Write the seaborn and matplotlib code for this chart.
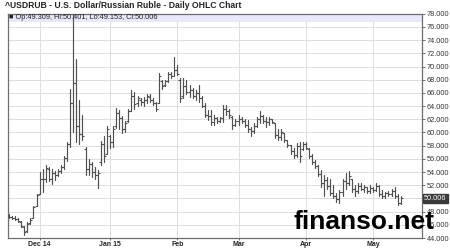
import numpy as np
import pandas as pd
import matplotlib
matplotlib.use("Agg")
import matplotlib.pyplot as plt
import matplotlib.transforms as mtransforms
import seaborn as sns

# ---------------- data ----------------
start_date = "2014-11-17"
highs = [47.6, 47.4, 47.3, 47.1, 46.6, 45.8, 46.4, 47.0, 48.9, 50.7,
         54.0, 54.5, 55.0, 54.7, 54.5, 54.2, 54.5, 55.0, 56.5, 58.5,
         66.6, 78.5, 71.2, 65.0, 62.6, 57.8, 56.0, 55.6, 54.8, 54.3,
         58.7, 59.5, 61.0, 59.6, 61.0, 63.7, 63.4, 62.5, 61.8, 63.5,
         66.5, 66.2, 65.6, 65.2, 65.4, 65.8, 65.9, 65.3, 64.7, 69.0,
         68.0, 68.0, 69.2, 69.2, 71.5, 70.2, 68.2, 68.2, 68.0, 67.2,
         66.7, 66.4, 67.2, 65.6, 64.5, 63.4, 63.4, 62.7, 62.4, 62.4,
         64.2, 64.2, 63.6, 62.5, 62.1, 62.6, 62.4, 62.1, 61.9, 60.9,
         61.4, 62.4, 63.2, 62.7, 62.4, 62.4, 62.1, 61.5, 60.5, 60.6,
         59.9, 58.9, 58.1, 57.6, 58.4, 58.6, 58.6, 58.6, 57.6, 56.8,
         55.8, 55.1, 54.3, 53.6, 53.3, 53.0, 52.0, 50.8, 51.3, 53.0,
         53.9, 54.1, 53.0, 52.0, 52.3, 52.3, 52.0, 51.8, 52.0, 51.8,
         52.3, 52.0, 51.3, 51.0, 51.2, 51.5, 51.8, 50.6, 50.401]
lows = [47.0, 46.9, 46.7, 46.4, 45.6, 44.5, 44.9, 46.1, 47.0, 48.9,
        50.6, 51.0, 52.5, 52.7, 52.2, 52.8, 53.4, 53.8, 54.5, 55.7,
        57.8, 60.0, 58.5, 58.2, 58.8, 53.5, 53.5, 53.3, 53.0, 51.6,
        55.1, 55.5, 56.8, 57.7, 57.8, 60.7, 60.5, 59.9, 60.1, 61.6,
        63.2, 63.6, 64.0, 64.2, 64.0, 64.5, 64.7, 64.2, 63.3, 64.4,
        66.6, 67.0, 67.7, 68.2, 68.5, 68.7, 64.7, 65.2, 65.9, 65.4,
        65.2, 64.9, 64.6, 63.8, 62.3, 61.9, 61.1, 61.1, 61.4, 61.6,
        61.6, 62.7, 62.2, 60.5, 61.0, 61.2, 61.4, 60.9, 60.1, 59.4,
        59.9, 60.9, 61.4, 61.4, 60.9, 61.1, 61.4, 59.2, 58.9, 58.9,
        58.5, 57.8, 56.8, 56.1, 56.3, 55.6, 57.3, 57.5, 56.2, 55.2,
        54.6, 53.4, 51.8, 50.3, 51.5, 50.5, 50.0, 49.5, 49.3, 50.3,
        51.5, 52.0, 51.0, 50.3, 50.8, 51.3, 51.0, 50.8, 50.8, 51.0,
        51.2, 50.3, 50.0, 50.0, 50.3, 50.4, 50.0, 49.0, 49.153]
opens = [47.4, 47.2, 47.1, 46.9, 46.5, 45.7, 45.0, 46.2, 47.1, 48.9,
         50.7, 52.9, 53.0, 54.5, 53.0, 53.8, 53.5, 54.2, 54.7, 56.2,
         58.3, 64.5, 67.5, 61.0, 59.8, 57.5, 54.5, 55.2, 54.0, 53.5,
         55.5, 58.3, 56.8, 59.5, 58.5, 61.0, 63.0, 62.2, 60.6, 61.7,
         63.3, 65.5, 64.4, 65.0, 64.6, 65.0, 65.4, 65.0, 64.5, 64.5,
         67.8, 67.2, 67.8, 68.8, 68.6, 69.5, 68.0, 65.5, 67.0, 66.2,
         66.5, 65.6, 66.0, 65.2, 64.0, 62.7, 62.5, 61.6, 62.2, 61.8,
         62.2, 63.6, 63.2, 62.4, 61.2, 61.7, 62.0, 61.7, 61.2, 60.5,
         60.3, 61.0, 62.0, 62.5, 61.8, 61.6, 62.1, 61.4, 59.6, 59.3,
         59.9, 58.8, 58.1, 57.2, 56.6, 58.0, 57.5, 58.2, 57.5, 56.5,
         55.6, 54.9, 53.7, 52.3, 52.8, 51.9, 50.9, 50.4, 49.9, 51.0,
         52.7, 52.4, 53.0, 51.4, 51.2, 51.9, 51.5, 51.7, 51.1, 51.6,
         51.3, 51.9, 50.6, 50.4, 50.8, 50.6, 51.2, 50.3, 49.309]
closes = [47.2, 47.1, 46.9, 46.6, 45.8, 44.9, 46.1, 46.8, 48.7, 50.5,
          52.9, 53.0, 54.6, 53.0, 53.8, 53.5, 54.2, 54.7, 56.2, 58.3,
          64.5, 67.5, 61.0, 59.8, 59.5, 54.5, 55.2, 54.0, 53.5, 53.9,
          58.3, 56.5, 60.5, 58.5, 60.5, 63.0, 62.2, 60.6, 61.4, 63.2,
          65.5, 64.3, 65.2, 64.6, 65.0, 65.5, 65.0, 64.5, 63.6, 68.5,
          67.0, 67.8, 68.8, 68.6, 69.5, 68.9, 65.2, 67.0, 66.2, 66.5,
          65.6, 66.0, 65.2, 64.0, 62.7, 62.5, 61.6, 62.2, 61.8, 62.2,
          63.6, 63.2, 62.6, 61.2, 61.7, 62.0, 61.7, 61.2, 60.5, 60.3,
          61.0, 62.0, 62.5, 61.8, 61.6, 62.1, 61.6, 59.6, 59.3, 60.1,
          58.8, 58.1, 57.2, 56.6, 58.0, 56.5, 58.2, 57.7, 56.5, 55.6,
          54.9, 53.7, 52.3, 52.8, 51.9, 50.9, 50.4, 49.9, 51.0, 52.7,
          52.4, 53.4, 51.4, 51.2, 51.9, 51.5, 51.7, 51.1, 51.6, 51.3,
          51.9, 50.6, 50.4, 50.8, 50.6, 51.2, 50.3, 49.3, 50.006]
month_labels = ["Dec 14", "Jan 15", "Feb", "Mar", "Apr", "May"]
month_starts = ["2014-12-01", "2015-01-01", "2015-02-02", "2015-03-02",
                "2015-04-01", "2015-05-01"]
y_ticks = list(range(44, 80, 2))
title = "^USDRUB - U.S. Dollar/Russian Ruble - Daily OHLC Chart"
legend_text = "\u25a0 Op:49.309, Hi:50.401, Lo:49.153, Cl:50.006"
last_close = 50.006
watermark = "finanso.net"

# ---------------- build frames ----------------
dates = pd.bdate_range(start_date, periods=len(highs))
idx = np.arange(len(dates))
date_pos = {d.strftime("%Y-%m-%d"): i for i, d in enumerate(dates)}
tick_pos = [date_pos[m] for m in month_starts]

long = pd.DataFrame({
    "i": np.concatenate([idx, idx]),
    "price": np.concatenate([highs, lows]),
})

# ---------------- style ----------------
sns.set_theme(style="white")
plt.rcParams["font.family"] = ["Liberation Sans", "DejaVu Sans"]

fig = plt.figure(figsize=(4.5, 2.48), dpi=100)
fig.patch.set_facecolor("white")
ax = fig.add_axes([7.5 / 450, 10 / 248, 414 / 450, 224.2 / 248])
ax.set_facecolor("white")

bar_color = "#505050"
sns.lineplot(data=long, x="i", y="price", units="i", estimator=None,
             sort=False, color=bar_color, lw=0.85, ax=ax, legend=False,
             zorder=4)
ax.plot(idx, opens, ls="none", marker=0, ms=1.1, mew=0.8, color=bar_color, zorder=4)
ax.plot(idx, closes, ls="none", marker=1, ms=1.1, mew=0.8, color=bar_color, zorder=4)

ax.set_xlim(-0.49, 134.8)
ax.set_ylim(44, 78)

# grid
for y in y_ticks:
    ax.axhline(y, color="#dedede", lw=0.7, zorder=1)
for x in tick_pos:
    ax.axvline(x, color="#dedede", lw=0.7, zorder=1)

# legend band at top
ax.axhspan(76.75, 78, color="#e8e8fb", zorder=2, lw=0)
ax.text(0.004, 77.38, legend_text,
        transform=mtransforms.blended_transform_factory(ax.transAxes, ax.transData),
        fontsize=5.3, color="#222222", va="center", ha="left", zorder=3)

# axes and ticks
for s in ax.spines.values():
    s.set_color("#6e6e6e")
    s.set_linewidth(0.9)
ax.yaxis.tick_right()
ax.set_yticks(y_ticks)
# the 50.000 label sits under the last-price box in the reference
ax.set_yticklabels(["" if v == 50 else f"{v:.3f}" for v in y_ticks])
ax.set_xticks(tick_pos)
ax.set_xticklabels(month_labels, fontweight="bold")
ax.tick_params(axis="y", which="both", right=True, left=False, length=2.5,
               width=0.7, color="#6e6e6e", labelsize=5.3, labelcolor="#333333", pad=1.5)
ax.tick_params(axis="x", which="both", bottom=True, length=1.5, width=0.7,
               color="#6e6e6e", labelsize=5.0, labelcolor="#222222", pad=0.4)
ax.set_xlabel("")
ax.set_ylabel("")

# last price box
ax.text(1.006, last_close, f"{last_close:.3f}",
        transform=mtransforms.blended_transform_factory(ax.transAxes, ax.transData),
        fontsize=5.3, color="white", va="center", ha="left", zorder=10, clip_on=False,
        bbox=dict(boxstyle="square,pad=0.15", fc="#3a3a3a", ec="#3a3a3a"))

# title
fig.text(5 / 450, 1 - 6 / 248, title, fontsize=6.2, fontweight="bold",
         color="#222222", va="center", ha="left")

# watermark
fig.text(293 / 450, 1 - 229 / 248, watermark, fontsize=19, fontweight="bold",
         color="black", va="baseline", ha="left", zorder=20)

fig.savefig("out.png", dpi=100, facecolor="white")
